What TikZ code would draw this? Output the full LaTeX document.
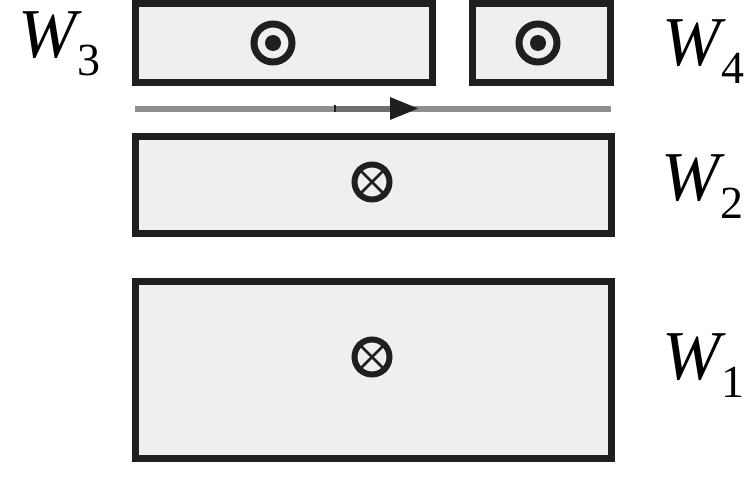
\documentclass[tikz,border=0pt]{standalone}
\usepackage{fontspec}
\setmainfont{Liberation Serif}
\definecolor{boxfill}{HTML}{EFEFED}
\definecolor{boxedge}{HTML}{1F1F1F}
\definecolor{rail}{HTML}{8F8F8F}
\definecolor{raildark}{HTML}{6F6F6F}
\newcommand{\wlab}[1]{\fontsize{70}{70}\selectfont\itshape W\kern1pt\raisebox{-18pt}{\upshape\fontsize{46}{46}\selectfont #1}}
\begin{document}
\begin{tikzpicture}[x=1pt,y=-1pt,
  winding/.style={draw=boxedge,fill=boxfill,line width=7pt,inner sep=0pt,outer sep=0pt,rectangle},
  ring/.style={draw=boxedge,line width=7pt,circle,inner sep=0pt,minimum size=38pt},
  crossring/.style={draw=boxedge,line width=6pt,circle,inner sep=0pt,minimum size=35pt},
  wlabel/.style={anchor=base west,inner sep=0pt,text=black}]
\useasboundingbox (0,0) rectangle (750,479);
% boxes
\node[winding,minimum width=297pt,minimum height=79pt] (w3) at (284,43) {};
\node[winding,minimum width=138pt,minimum height=79pt] (w4) at (541.5,43) {};
\node[winding,minimum width=476pt,minimum height=97pt] (w2) at (373,185) {};
\node[winding,minimum width=476pt,minimum height=177pt] (w1) at (373,370) {};
% dot symbols (out of page)
\node[ring] (d3) at (273,43) {};
\fill[boxedge] (d3.center) circle (8pt);
\node[ring] (d4) at (538,43) {};
\fill[boxedge] (d4.center) circle (8pt);
% cross symbols (into page)
\node[crossring] (x2) at (372,182) {};
\draw[boxedge,line width=2.5pt] (x2.north west) -- (x2.south east) (x2.north east) -- (x2.south west);
\node[crossring] (x1) at (372,357) {};
\draw[boxedge,line width=2.5pt] (x1.north west) -- (x1.south east) (x1.north east) -- (x1.south west);
% moving rail with arrow
\coordinate (r1) at (135,108.5);
\coordinate (r2) at (611,108.5);
\coordinate (rm) at (335,108.5);
\coordinate (rh) at (392,108.5);
\draw[rail,line width=6pt] (r1) -- (r2);
\draw[raildark,line width=6pt] (rm) -- (rh);
\fill[boxedge] ([xshift=-1pt,yshift=-3.5pt]rm) rectangle ([xshift=1pt,yshift=3.5pt]rm);
\fill[boxedge] (390,97) -- (418,108.5) -- (390,120) -- cycle;
% labels
\node[wlabel] (l3) at (18,57) {\wlab{3}};
\node[wlabel] (l4) at (662,65) {\wlab{4}};
\node[wlabel] (l2) at (661,200) {\wlab{2}};
\node[wlabel] (l1) at (662,379) {\wlab{1}};
\end{tikzpicture}
\end{document}
